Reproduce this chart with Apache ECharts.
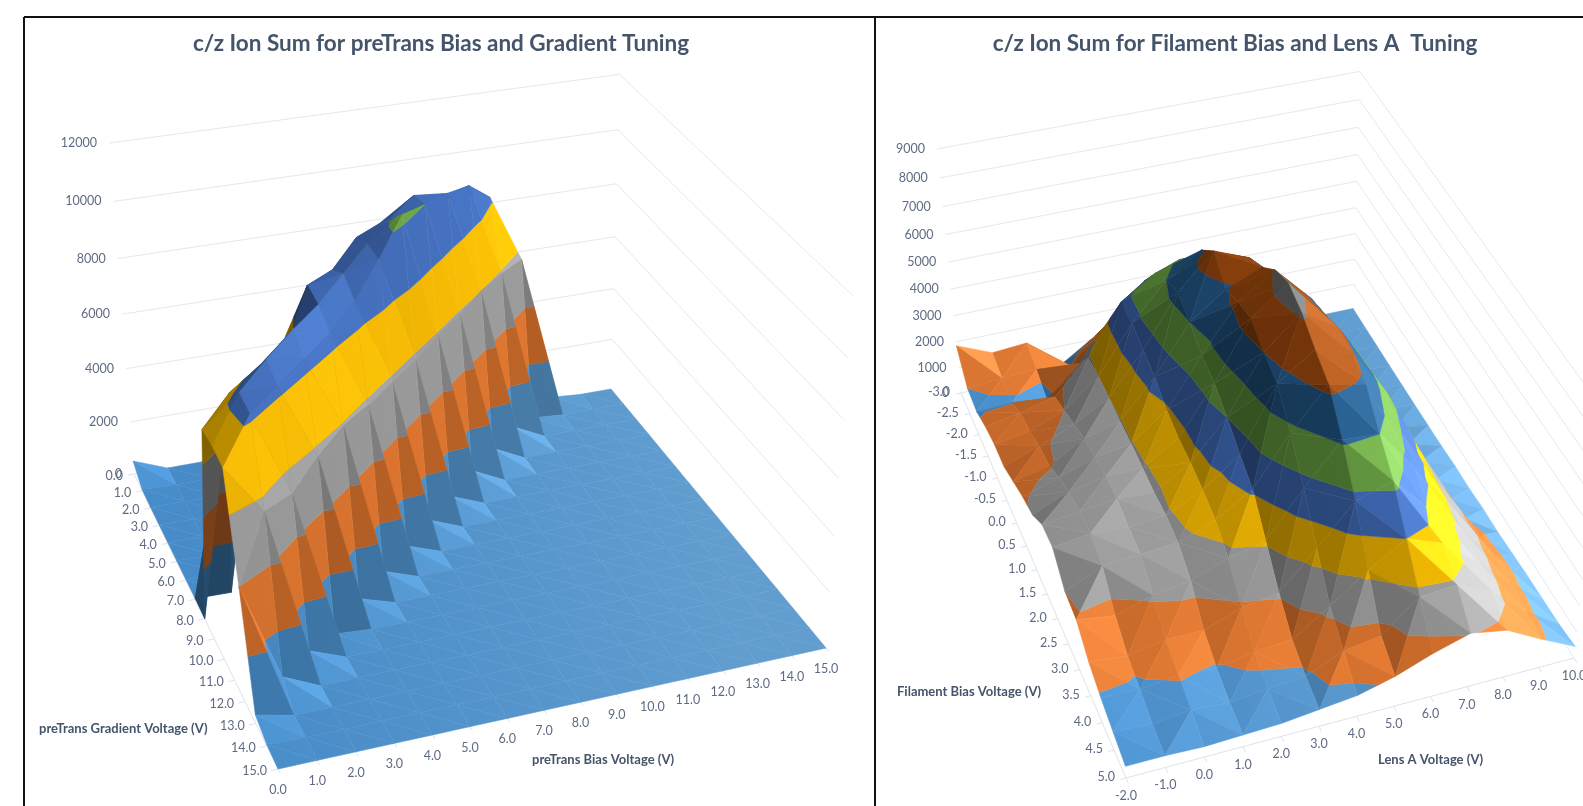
<!DOCTYPE html>
<html>
<head>
<meta charset="utf-8">
<title>c/z Ion Sum tuning surfaces</title>
<style>
  html, body { margin: 0; padding: 0; background: #fff; }
  #chart { width: 1583px; height: 806px; }
</style>
</head>
<body>
<div id="chart"></div>
<script src="https://cdn.jsdelivr.net/npm/echarts@6/dist/echarts.min.js"></script>
<script>
// left surface: rows are preTrans Gradient, columns are preTrans Bias
var preTransBias = [0, 1, 2, 3, 4, 5, 6, 7, 8, 9, 10, 11, 12, 13, 14, 15];
var preTransGradient = [0, 1, 2, 3, 4, 5, 6, 7, 8, 9, 10, 11, 12, 13, 14, 15];
var preTransZTicks = [0, 2000, 4000, 6000, 8000, 10000, 12000];
var preTransIon = [
    [500, 0, 0, 0, 0, 0, 0, 0, 8000, 8300, 8400, 8200, 5700, 100, 0, 0],
    [50, 0, 0, 0, 0, 0, 0, 8000, 8700, 8900, 9300, 5900, 100, 0, 0, 0],
    [30, 0, 0, 0, 0, 0, 7700, 9000, 9800, 9700, 6000, 600, 0, 0, 0, 0],
    [30, 0, 0, 0, 0, 7500, 9200, 9700, 10000, 5900, 600, 0, 0, 0, 0, 0],
    [30, 0, 0, 0, 7300, 8800, 9500, 10300, 5900, 600, 0, 0, 0, 0, 0, 0],
    [30, 0, 0, 6500, 9000, 9200, 9500, 5800, 500, 0, 0, 0, 0, 0, 0, 0],
    [30, 0, 6000, 7300, 8900, 8800, 5800, 500, 0, 0, 0, 0, 0, 0, 0, 0],
    [30, 0, 7700, 8800, 8500, 5800, 450, 0, 0, 0, 0, 0, 0, 0, 0, 0],
    [0, 7700, 8600, 8400, 5900, 450, 0, 0, 0, 0, 0, 0, 0, 0, 0, 0],
    [7300, 8300, 8300, 5700, 400, 0, 0, 0, 0, 0, 0, 0, 0, 0, 0, 0],
    [7400, 8200, 5300, 100, 0, 0, 0, 0, 0, 0, 0, 0, 0, 0, 0, 0],
    [7300, 5600, 500, 0, 0, 0, 0, 0, 0, 0, 0, 0, 0, 0, 0, 0],
    [4000, 600, 0, 0, 0, 0, 0, 0, 0, 0, 0, 0, 0, 0, 0, 0],
    [300, 0, 0, 0, 0, 0, 0, 0, 0, 0, 0, 0, 0, 0, 0, 0],
    [50, 0, 0, 0, 0, 0, 0, 0, 0, 0, 0, 0, 0, 0, 0, 0],
    [0, 0, 0, 0, 0, 0, 0, 0, 0, 0, 0, 0, 0, 0, 0, 0]
];

// right surface: rows are Filament Bias, columns are Lens A
var lensAVoltage = [-2, -1, 0, 1, 2, 3, 4, 5, 6, 7, 8, 9, 10];
var filamentBias = [-3, -2.5, -2, -1.5, -1, -0.5, 0, 0.5, 1, 1.5, 2, 2.5, 3, 3.5, 4, 4.5, 5];
var filamentZTicks = [0, 1000, 2000, 3000, 4000, 5000, 6000, 7000, 8000, 9000];
var filamentIon = [
    [1850, 1300, 1400, 300, 1100, 2000, 2800, 3000, 2000, 500, 60, 30, 20],
    [1000, 1100, 1150, 1000, 2000, 3200, 3900, 4000, 3000, 1200, 200, 40, 20],
    [900, 950, 800, 1900, 3200, 4500, 5000, 5000, 3900, 2000, 500, 60, 30],
    [1150, 1400, 1700, 2900, 4700, 5500, 5800, 5600, 4400, 3000, 1000, 100, 40],
    [1300, 1500, 2000, 3000, 4700, 6000, 6800, 6300, 5000, 4000, 1500, 150, 50],
    [1300, 1800, 2300, 3000, 4500, 6300, 7500, 7000, 5800, 4500, 1900, 200, 60],
    [1600, 1900, 2600, 2950, 4300, 6000, 6900, 7400, 6300, 4900, 2200, 300, 80],
    [1900, 2300, 2750, 2950, 3900, 5600, 7200, 8050, 6800, 5100, 2500, 500, 100],
    [2100, 2650, 2900, 2900, 3700, 5400, 7400, 8350, 7000, 5300, 2900, 700, 150],
    [2650, 2800, 2950, 2850, 3650, 5000, 7000, 8100, 7300, 5400, 3000, 800, 150],
    [2700, 2900, 2800, 2900, 3500, 4500, 6700, 7600, 7200, 5500, 3100, 900, 200],
    [2000, 2600, 2700, 2800, 3300, 4100, 5800, 7200, 6900, 5000, 3000, 1050, 200],
    [1900, 1700, 2100, 2300, 2800, 3100, 4700, 6100, 6000, 4500, 2900, 1300, 250],
    [1300, 1150, 1400, 1400, 1900, 2100, 3400, 4800, 5200, 3900, 2700, 1400, 300],
    [950, 900, 1050, 950, 1200, 1300, 2200, 3200, 4000, 3500, 2500, 1300, 320],
    [700, 600, 750, 650, 800, 900, 1500, 1700, 2800, 2900, 2300, 1200, 350],
    [450, 450, 400, 450, 500, 650, 800, 1150, 1650, 2050, 1800, 1100, 450]
];

// Excel series palette, one colour per z band
var bandColors = ['#5B9BD5', '#ED7D31', '#A5A5A5', '#FFC000', '#4472C4', '#70AD47', '#255E91', '#9E480E', '#636363'];

// camera of each 3D box: floor corners on screen, where the verticals converge, how fast z lifts
var leftView = {
    a: [134, 474], b: [278, 769], c: [826, 648], d: [611, 389],
    vp: [484, 5112], lift: -0.0666, hz: 0.5, shine: 25
};
var rightView = {
    a: [961, 393], b: [1126, 778], c: [1574, 658], d: [1353, 309],
    vp: [1262, 3456], lift: -0.0738, hz: 0.5, shine: 45
};
var lightDir = normalize([0.55, 0.3, 0.78]);
var fillDir = normalize([-0.7, -0.7, 0]);

function normalize(p) {
    var len = Math.sqrt(p[0] * p[0] + p[1] * p[1] + p[2] * p[2]) || 1;
    return [p[0] / len, p[1] / len, p[2] / len];
}

function dot(a, b) {
    return a[0] * b[0] + a[1] * b[1] + a[2] * b[2];
}

// unit square -> floor quad
function setupCamera(view) {
    var A = view.a, D = view.d, C = view.c, B = view.b;
    var dx1 = D[0] - C[0], dx2 = B[0] - C[0], sx = A[0] - D[0] + C[0] - B[0];
    var dy1 = D[1] - C[1], dy2 = B[1] - C[1], sy = A[1] - D[1] + C[1] - B[1];
    var den = dx1 * dy2 - dx2 * dy1;
    var g = (sx * dy2 - dx2 * sy) / den;
    var h = (dx1 * sy - sx * dy1) / den;
    view.m = [
        D[0] - A[0] + g * D[0], B[0] - A[0] + h * B[0], A[0],
        D[1] - A[1] + g * D[1], B[1] - A[1] + h * B[1], A[1],
        g, h
    ];
    // floor point straight below the camera, used for draw order
    var vx = view.vp[0], vy = view.vp[1], m = view.m;
    var a1 = m[0] - g * vx, b1 = m[1] - h * vx, c1 = vx - m[2];
    var a2 = m[3] - g * vy, b2 = m[4] - h * vy, c2 = vy - m[5];
    var det = a1 * b2 - a2 * b1;
    view.nadir = [(c1 * b2 - c2 * b1) / det, (a1 * c2 - a2 * c1) / det];
}

function project(view, u, v, w) {
    var m = view.m, l = w * view.lift;
    var W = m[6] * u + m[7] * v + 1 + l;
    return [
        (m[0] * u + m[1] * v + m[2] + l * view.vp[0]) / W,
        (m[3] * u + m[4] * v + m[5] + l * view.vp[1]) / W
    ];
}

// keep the part of a polygon between two z levels
function clipBand(poly, lo, hi) {
    return clipSide(clipSide(poly, lo, 1), hi, -1);
}

function clipSide(poly, level, sign) {
    var out = [];
    for (var i = 0; i < poly.length; i++) {
        var p = poly[i], q = poly[(i + 1) % poly.length];
        var dp = (p[2] - level) * sign, dq = (q[2] - level) * sign;
        if (dp >= 0) out.push(p);
        if ((dp > 0 && dq < 0) || (dp < 0 && dq > 0)) {
            var t = dp / (dp - dq);
            out.push([p[0] + (q[0] - p[0]) * t, p[1] + (q[1] - p[1]) * t, level]);
        }
    }
    return out;
}

function toRgb(hex, k, tint, add) {
    var r = parseInt(hex.substr(1, 2), 16), g = parseInt(hex.substr(3, 2), 16), b = parseInt(hex.substr(5, 2), 16);
    return 'rgb(' + Math.min(255, Math.round(r * k * tint[0] + add)) + ','
        + Math.min(255, Math.round(g * k * tint[1] + add)) + ','
        + Math.min(255, Math.round(b * k * tint[2] + add)) + ')';
}

// flat shade per facet, with a screen wide gradient so the floor has no visible quilting
function shadeColor(band, tri, zMax, view) {
    var hex = bandColors[band], hz = view.hz;
    var e1 = [tri[1][0] - tri[0][0], tri[1][1] - tri[0][1], (tri[1][2] - tri[0][2]) / zMax * hz];
    var e2 = [tri[2][0] - tri[0][0], tri[2][1] - tri[0][1], (tri[2][2] - tri[0][2]) / zMax * hz];
    var n = normalize([
        e1[1] * e2[2] - e1[2] * e2[1],
        e1[2] * e2[0] - e1[0] * e2[2],
        e1[0] * e2[1] - e1[1] * e2[0]
    ]);
    if (n[2] < 0) n = [-n[0], -n[1], -n[2]];
    var nl = Math.max(0, dot(n, lightDir));
    var k = 0.36 + 0.74 * nl + 0.17 * Math.max(0, dot(n, fillDir));
    var add = view.shine * Math.pow(nl, 8);
    var from = band === 0 ? [0.78, 0.93, 0.98] : [0.96, 0.96, 0.96];
    var to = band === 0 ? [1.1, 1.06, 1.02] : [1.04, 1.04, 1.04];
    var p0 = project(view, 0, 0.5, 0), p1 = project(view, 1, 0.5, 0);
    return {
        type: 'linear',
        global: true,
        x: p0[0], y: p0[1], x2: p1[0], y2: p1[1],
        colorStops: [
            { offset: 0, color: toRgb(hex, k, from, add) },
            { offset: 1, color: toRgb(hex, k, to, add) }
        ]
    };
}

// turn the z table into band coloured polygons, far cells first
function buildFacets(rows, view, zTicks) {
    var ny = rows.length, nx = rows[0].length;
    var zMax = zTicks[zTicks.length - 1], step = zTicks[1] - zTicks[0];
    var nu = view.nadir[0], nv = view.nadir[1];
    var cells = [];
    for (var j = 0; j < ny - 1; j++) {
        for (var i = 0; i < nx - 1; i++) {
            cells.push([i, j]);
        }
    }
    cells.sort(function (p, q) {
        var dv = Math.abs((p[1] + 0.5) / (ny - 1) - nv) - Math.abs((q[1] + 0.5) / (ny - 1) - nv);
        if (dv !== 0) return -dv;
        return Math.abs((q[0] + 0.5) / (nx - 1) - nu) - Math.abs((p[0] + 0.5) / (nx - 1) - nu);
    });
    var facets = [];
    cells.forEach(function (cell) {
        var i = cell[0], j = cell[1];
        var u0 = i / (nx - 1), u1 = (i + 1) / (nx - 1), v0 = j / (ny - 1), v1 = (j + 1) / (ny - 1);
        var p00 = [u0, v0, rows[j][i]], p01 = [u0, v1, rows[j + 1][i]];
        var p11 = [u1, v1, rows[j + 1][i + 1]], p10 = [u1, v0, rows[j][i + 1]];
        // the cell folds along whichever diagonal sits higher
        var tris;
        if (p00[2] + p11[2] >= p01[2] + p10[2]) {
            tris = [[p00, p11, p10], [p00, p01, p11]];
        } else {
            tris = [[p00, p01, p10], [p01, p11, p10]];
        }
        tris.sort(function (s, t) { return triDist(t, nu, nv) - triDist(s, nu, nv); });
        tris.forEach(function (tri) {
            for (var b = 0; b < bandColors.length && b * step < zMax + 1; b++) {
                var poly = clipBand(tri, b * step, (b + 1) * step);
                if (poly.length < 3) continue;
                facets.push({
                    pts: poly.map(function (p) { return project(view, p[0], p[1], p[2] / zMax); }),
                    color: shadeColor(b, tri, zMax, view)
                });
            }
        });
    });
    return facets;
}

function triDist(tri, nu, nv) {
    var cu = (tri[0][0] + tri[1][0] + tri[2][0]) / 3 - nu;
    var cv = (tri[0][1] + tri[1][1] + tri[2][1]) / 3 - nv;
    return cu * cu + cv * cv;
}

// z gridlines on both back walls, axis lines and tick marks on the floor
function buildGuides(view, xVals, yVals, zTicks) {
    var lines = [], zMax = zTicks[zTicks.length - 1];
    zTicks.forEach(function (z) {
        var w = z / zMax;
        lines.push({ pts: [project(view, 0, 0, w), project(view, 1, 0, w)], color: '#e6e8ef' });
        lines.push({ pts: [project(view, 1, 0, w), project(view, 1, 1, w)], color: '#e6e8ef' });
    });
    lines.push({ pts: [project(view, 0, 0, 0), project(view, 0, 1, 0)], color: '#dde3ec' });
    lines.push({ pts: [project(view, 0, 1, 0), project(view, 1, 1, 0)], color: '#dde3ec' });
    xVals.forEach(function (x, i) {
        var u = i / (xVals.length - 1);
        lines.push({ pts: [project(view, u, 1, 0), project(view, u, 1.012, 0)], color: '#dde3ec' });
    });
    yVals.forEach(function (y, i) {
        var v = i / (yVals.length - 1);
        lines.push({ pts: [project(view, 0, v, 0), project(view, -0.012, v, 0)], color: '#dde3ec' });
    });
    return lines;
}

function buildLabels(view, xVals, yVals, zTicks, off) {
    var labels = [], zMax = zTicks[zTicks.length - 1];
    zTicks.forEach(function (z) {
        var p = project(view, 0, 0, z / zMax);
        labels.push({ at: p, dx: off.zx, dy: 0, text: String(z), align: 'right' });
    });
    yVals.forEach(function (y, i) {
        var p = project(view, 0, i / (yVals.length - 1), 0);
        labels.push({ at: p, dx: off.yx, dy: off.yy, text: y.toFixed(1), align: 'right' });
    });
    xVals.forEach(function (x, i) {
        var p = project(view, i / (xVals.length - 1), 1, 0);
        labels.push({ at: p, dx: 0, dy: off.xy, text: x.toFixed(1), align: 'center' });
    });
    return labels;
}

function polygonSeries(items) {
    return {
        type: 'custom',
        coordinateSystem: 'cartesian2d',
        clip: false,
        silent: true,
        animation: false,
        progressive: 0,
        data: items.map(function (f, i) { return [i]; }),
        renderItem: function (params, api) {
            var f = items[params.dataIndex];
            return {
                type: 'polygon',
                shape: { points: f.pts.map(function (p) { return api.coord(p); }) },
                style: { fill: f.color, stroke: f.color, lineWidth: 0.5 }
            };
        }
    };
}

function lineSeries(items) {
    return {
        type: 'custom',
        coordinateSystem: 'cartesian2d',
        clip: false,
        silent: true,
        animation: false,
        progressive: 0,
        data: items.map(function (f, i) { return [i]; }),
        renderItem: function (params, api) {
            var f = items[params.dataIndex];
            var a = api.coord(f.pts[0]), b = api.coord(f.pts[1]);
            return {
                type: 'line',
                shape: { x1: a[0], y1: a[1], x2: b[0], y2: b[1] },
                style: { stroke: f.color, lineWidth: 1 }
            };
        }
    };
}

function labelSeries(items) {
    return {
        type: 'custom',
        coordinateSystem: 'cartesian2d',
        clip: false,
        silent: true,
        animation: false,
        progressive: 0,
        data: items.map(function (f, i) { return [i]; }),
        renderItem: function (params, api) {
            var f = items[params.dataIndex];
            var p = api.coord(f.at);
            return {
                type: 'text',
                style: {
                    text: f.text,
                    x: p[0] + f.dx,
                    y: p[1] + f.dy,
                    fill: '#5f6b82',
                    font: '12.5px Lato',
                    align: f.align,
                    verticalAlign: 'middle'
                }
            };
        }
    };
}

function axisTitle(text, left, top) {
    return {
        text: text,
        left: left,
        top: top,
        textStyle: { fontFamily: 'Lato', fontWeight: 'bold', fontSize: 13, color: '#44546A' }
    };
}

function frameLine(x1, y1, x2, y2) {
    return {
        type: 'line',
        shape: { x1: x1, y1: y1, x2: x2, y2: y2 },
        style: { stroke: '#111', lineWidth: 2 }
    };
}

setupCamera(leftView);
setupCamera(rightView);

var leftOff = { zx: -12, yx: -11, yy: 2, xy: 21 };
var rightOff = { zx: -12, yx: -11, yy: -1, xy: 18 };

var chart = echarts.init(document.getElementById('chart'), null, { renderer: 'canvas' });
chart.setOption({
    animation: false,
    backgroundColor: '#fff',
    title: [
        {
            text: 'c/z Ion Sum for preTrans Bias and Gradient Tuning',
            left: 436, top: 27, textAlign: 'center',
            textStyle: { fontFamily: 'Lato', fontWeight: 'bold', fontSize: 22.5, color: '#44546A' }
        },
        {
            text: 'c/z Ion Sum for Filament Bias and Lens A  Tuning',
            left: 1230, top: 27, textAlign: 'center',
            textStyle: { fontFamily: 'Lato', fontWeight: 'bold', fontSize: 22.5, color: '#44546A' }
        },
        axisTitle('preTrans Gradient Voltage (V)', 34, 717),
        axisTitle('preTrans Bias Voltage (V)', 527, 748),
        axisTitle('Filament Bias Voltage (V)', 892, 680),
        axisTitle('Lens A Voltage (V)', 1373, 748)
    ],
    grid: { left: 0, top: 0, right: 0, bottom: 0 },
    xAxis: { type: 'value', min: 0, max: 1583, show: false },
    yAxis: { type: 'value', min: 0, max: 806, inverse: true, show: false },
    graphic: [
        frameLine(24, 17, 24, 806),
        frameLine(24, 17, 1583, 17),
        frameLine(875, 17, 875, 806)
    ],
    series: [
        lineSeries(buildGuides(leftView, preTransBias, preTransGradient, preTransZTicks)),
        lineSeries(buildGuides(rightView, lensAVoltage, filamentBias, filamentZTicks)),
        polygonSeries(buildFacets(preTransIon, leftView, preTransZTicks)),
        polygonSeries(buildFacets(filamentIon, rightView, filamentZTicks)),
        labelSeries(buildLabels(leftView, preTransBias, preTransGradient, preTransZTicks, leftOff)),
        labelSeries(buildLabels(rightView, lensAVoltage, filamentBias, filamentZTicks, rightOff))
    ]
});
</script>
</body>
</html>
